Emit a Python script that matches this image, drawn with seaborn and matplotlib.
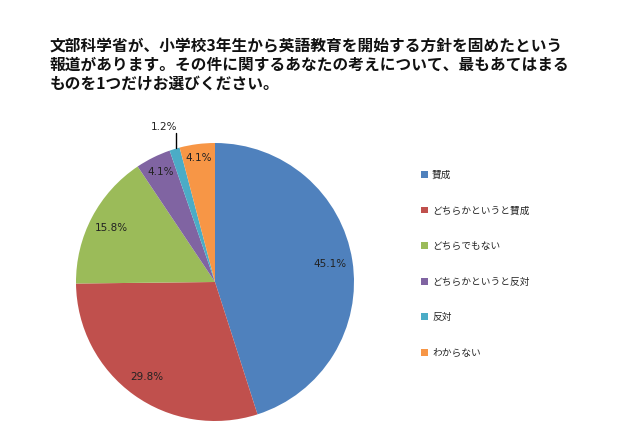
import matplotlib
matplotlib.use("Agg")
import matplotlib.pyplot as plt
from matplotlib.patches import Patch
import numpy as np
import seaborn as sns

title = "文部科学省が、小学校3年生から英語教育を開始する方針を固めたという\n報道があります。その件に関するあなたの考えについて、最もあてはまる\nものを1つだけお選びください。"
categories = ["賛成", "どちらかというと賛成", "どちらでもない", "どちらかというと反対", "反対", "わからない"]
values = [45.1, 29.8, 15.8, 4.1, 1.2, 4.1]
colors = ["#4F81BD", "#C0504D", "#9BBB59", "#8064A2", "#4BACC6", "#F79646"]
label_radius = [0.84, 0.84, 0.84, 0.88, 1.16, 0.90]

sns.set_theme(style="white")
plt.rcParams["font.family"] = ["Noto Sans CJK JP", "DejaVu Sans"]

fig = plt.figure(figsize=(6.4, 4.26), dpi=100)
fig.patch.set_facecolor("white")

ax = fig.add_axes([76 / 640, 5 / 426, 278 / 640, 278 / 426])
wedges, _ = ax.pie(values, colors=colors, startangle=90, counterclock=False,
                   wedgeprops=dict(linewidth=0))
ax.set_xlim(-1, 1)
ax.set_ylim(-1, 1)
ax.set_aspect("equal")

for w, v, r in zip(wedges, values, label_radius):
    mid = np.deg2rad((w.theta1 + w.theta2) / 2)
    x, y = r * np.cos(mid), r * np.sin(mid)
    if r > 1:
        ex, ey = np.cos(mid), np.sin(mid)
        ax.plot([ex + 0.01, ex + 0.01], [ey + 0.01, 1.07], color="#000000", lw=1.0,
                clip_on=False)
        ax.text(x - 0.03, 1.08, f"{v}%", ha="center", va="bottom", fontsize=7.5,
                family="DejaVu Sans", color="#222222", clip_on=False)
    else:
        ax.text(x, y, f"{v}%", ha="center", va="center", fontsize=7.5,
                family="DejaVu Sans", color="#222222")

fig.text(50 / 640, 1 - 38 / 426, title, ha="left", va="top", fontsize=11.3,
         fontweight="bold", linespacing=1.2, color="#111111")

handles = [Patch(facecolor=c, edgecolor="none") for c in colors]
fig.legend(handles, categories, loc="upper left",
           bbox_to_anchor=(416 / 640, 1 - 165 / 426), frameon=False,
           fontsize=7, handlelength=0.7, handleheight=0.7, handletextpad=0.45,
           labelspacing=2.63, borderpad=0)

fig.savefig("out.png", dpi=100, facecolor="white")
